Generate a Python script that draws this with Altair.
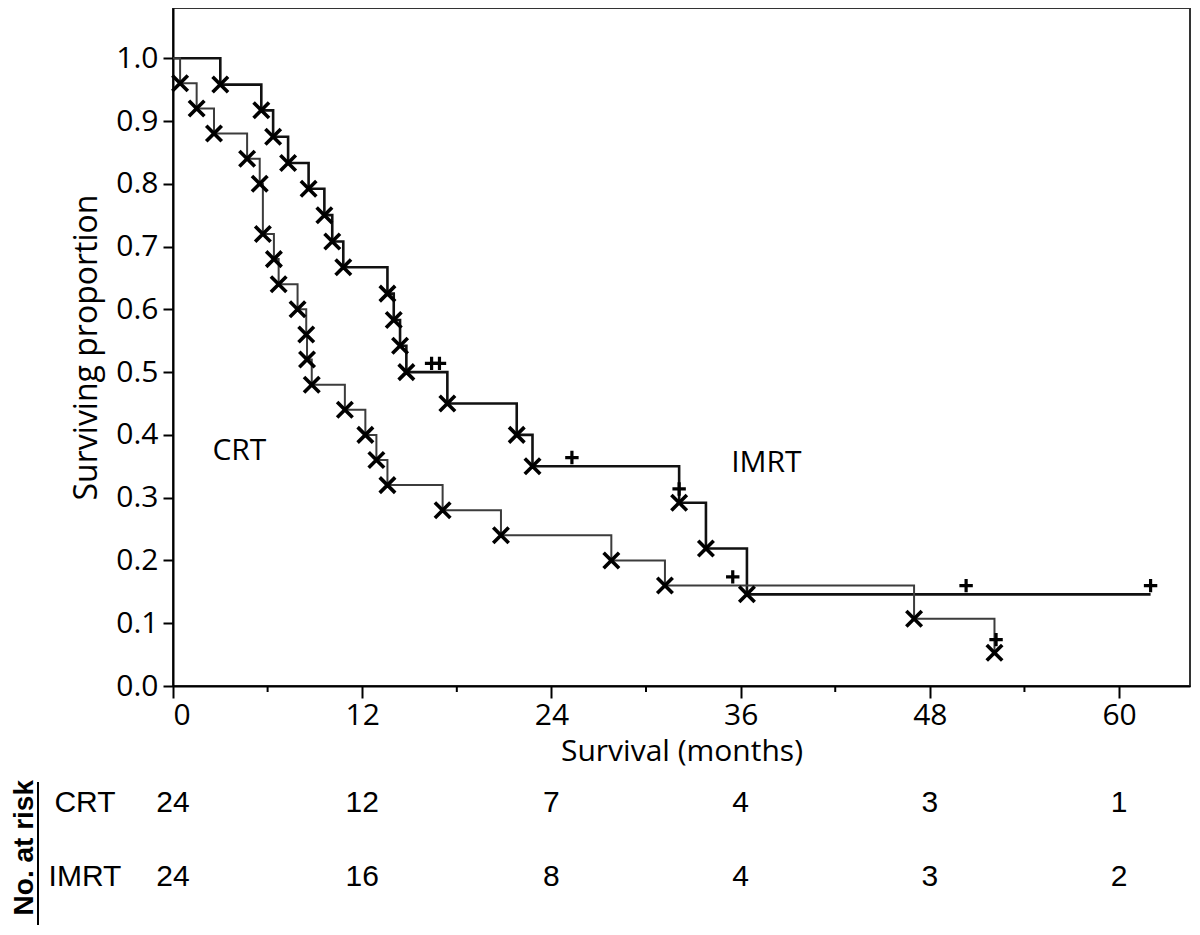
import altair as alt
import pandas as pd

# ---------------- data ----------------
# Kaplan-Meier step points (time in months, surviving proportion)
crt_time = [0, 0.45, 1.5, 2.6, 4.7, 5.5, 5.7, 6.4, 6.7, 7.9, 8.45, 8.5, 8.8,
            10.9, 12.2, 12.9, 13.6, 17.1, 20.8, 27.8, 31.2, 47.0, 52.1]
crt_surv = [1.0, 0.96, 0.92, 0.88, 0.84, 0.80, 0.72, 0.68, 0.64, 0.60, 0.56, 0.52, 0.48,
            0.44, 0.40, 0.36, 0.32, 0.28, 0.24, 0.20, 0.16, 0.107, 0.053]
crt_cens_time = [35.5, 52.2]
crt_cens_surv = [0.16, 0.06]

imrt_time = [0, 3.0, 5.6, 6.35, 7.3, 8.6, 9.6, 10.1, 10.8, 13.6, 14.0, 14.4, 14.8,
             17.4, 21.8, 22.8, 32.1, 33.8, 36.4, 62.0]
imrt_surv = [1.0, 0.958, 0.917, 0.875, 0.833, 0.792, 0.75, 0.708, 0.667, 0.625, 0.583,
             0.542, 0.5, 0.45, 0.40, 0.35, 0.292, 0.219, 0.146, 0.146]
imrt_cens_time = [16.4, 16.9, 25.3, 32.1, 50.3, 62.0]
imrt_cens_surv = [0.5, 0.5, 0.35, 0.30, 0.146, 0.146]

# curve labels inside the plot
curve_labels = ["CRT", "IMRT"]
curve_label_time = [2.5, 35.4]
curve_label_surv = [0.36, 0.341]

# number-at-risk table
risk_times = [0, 12, 24, 36, 48, 60]
risk_crt = [24, 12, 7, 4, 3, 1]
risk_imrt = [24, 16, 8, 4, 3, 2]

x_ticks = [0, 12, 24, 36, 48, 60]
x_minor = [6, 18, 30, 42, 54]
y_ticks = [0.0, 0.1, 0.2, 0.3, 0.4, 0.5, 0.6, 0.7, 0.8, 0.9, 1.0]

# ---------------- chart ----------------
W, H = 1017, 678
FONT = "Open Sans"
ARIAL = "Liberation Sans"

xs = alt.Scale(domain=[0, 64.5], nice=False, zero=False)
ys = alt.Scale(domain=[0, 1.08], nice=False)

x_axis = alt.Axis(values=x_ticks, format="d", title="Survival (months)", grid=False,
                  domainColor="black", domainWidth=2, tickColor="black", tickWidth=2,
                  tickSize=12, labelFont=FONT, labelFontSize=30, labelColor="black",
                  labelPadding=2, titleFont=FONT, titleFontSize=30, titleFontWeight="normal",
                  titleColor="black", titlePadding=6)
y_axis = alt.Axis(values=y_ticks, format=".1f", title="Surviving proportion", grid=False,
                  domainColor="black", domainWidth=2, tickColor="black", tickWidth=2,
                  tickSize=10, labelFont=FONT, labelFontSize=30, labelColor="black",
                  labelPadding=5, titleFont=FONT, titleFontSize=32, titleFontWeight="normal",
                  titleColor="black", titlePadding=12)


def X():
    return alt.X("t:Q", scale=xs, axis=x_axis)


def Y():
    return alt.Y("s:Q", scale=ys, axis=y_axis)


crt_df = pd.DataFrame({"t": crt_time, "s": crt_surv})
imrt_df = pd.DataFrame({"t": imrt_time, "s": imrt_surv})
crt_ev = crt_df.iloc[1:]
imrt_ev = imrt_df.iloc[1:-1]
crt_c = pd.DataFrame({"t": crt_cens_time, "s": crt_cens_surv})
imrt_c = pd.DataFrame({"t": imrt_cens_time, "s": imrt_cens_surv})

X_SHAPE = "M-1,-1L1,1M-1,1L1,-1"
PLUS_SHAPE = "M-1,-1.3L1,-1.3M0,-2.3L0,-0.3"

imrt_line = alt.Chart(imrt_df).mark_line(interpolate="step-after", color="#111",
                                         strokeWidth=2.6).encode(x=X(), y=Y())
crt_line = alt.Chart(crt_df).mark_line(interpolate="step-after", color="#3c3c3c",
                                       strokeWidth=2).encode(x=X(), y=Y())


def events(df):
    return alt.Chart(df).mark_point(shape=X_SHAPE, filled=False, color="black",
                                    strokeWidth=3.6, size=240, opacity=1).encode(x=X(), y=Y())


def censors(df):
    return alt.Chart(df).mark_point(shape=PLUS_SHAPE, filled=False, color="black",
                                    strokeWidth=3.2, size=180, opacity=1).encode(x=X(), y=Y())


minor_ticks = alt.Chart(pd.DataFrame({"t": x_minor})).mark_rule(
    color="black", strokeWidth=2).encode(
    x=X(),
    y=alt.value(H),
    y2=alt.value(H + 6),
)

labels = alt.Chart(pd.DataFrame({"t": curve_label_time, "s": curve_label_surv,
                                 "lab": curve_labels})).mark_text(
    font=FONT, fontSize=30, align="left", baseline="alphabetic", color="black").encode(
    x=X(), y=Y(), text="lab:N",
)


def risk_row(counts, ypix):
    return alt.Chart(pd.DataFrame({"t": risk_times, "n": counts})).mark_text(
        font=ARIAL, fontSize=30, align="center", baseline="middle", color="black").encode(
        x=X(),
        y=alt.value(ypix),
        text="n:Q",
    )


def row_label(name, ypix):
    return alt.Chart(pd.DataFrame({"g": [name]})).mark_text(
        font=ARIAL, fontSize=30, align="center", baseline="middle", color="black").encode(
        x=alt.value(-88), y=alt.value(ypix), text="g:N")


risk_title = alt.Chart(pd.DataFrame({"g": ["No. at risk"]})).mark_text(
    font=ARIAL, fontSize=28, fontWeight="bold", angle=270, align="right",
    baseline="alphabetic", color="black").encode(
    x=alt.value(-140), y=alt.value(772), text="g:N")

risk_bar = alt.Chart(pd.DataFrame({"g": ["bar"]})).mark_rule(
    color="black", strokeWidth=2).encode(
    x=alt.value(-135), y=alt.value(774), y2=alt.value(917))

chart = alt.layer(
    imrt_line, crt_line, minor_ticks,
    events(crt_ev), events(imrt_ev), censors(crt_c), censors(imrt_c),
    labels,
    risk_row(risk_crt, 795), risk_row(risk_imrt, 869),
    row_label("CRT", 795), row_label("IMRT", 869),
    risk_title, risk_bar,
).properties(
    width=W, height=H,
    autosize=alt.AutoSizeParams(type="none"),
    padding={"left": 165, "top": 0, "right": 2, "bottom": 240},
    background="white",
).configure_view(stroke="#333", strokeWidth=2)

chart.save("out.html", embed_options={"renderer": "svg", "actions": False})
